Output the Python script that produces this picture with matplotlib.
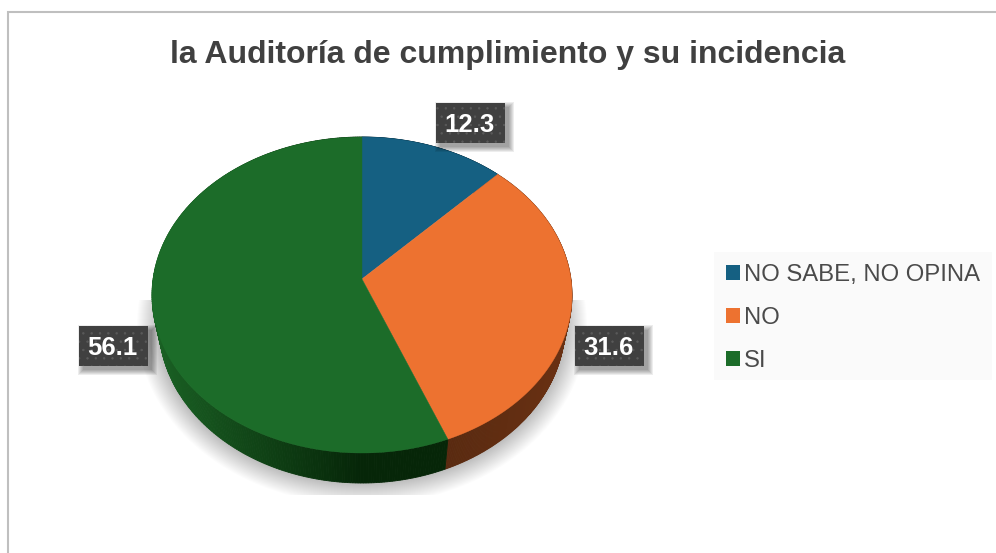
import numpy as np
import matplotlib
matplotlib.use('Agg')
import matplotlib.pyplot as plt
from matplotlib.patches import Ellipse, Rectangle, Patch

plt.rcParams['font.family'] = ['Liberation Sans', 'DejaVu Sans']

# data
title = 'la Auditoría de cumplimiento y su incidencia'
categories = ['NO SABE, NO OPINA', 'NO', 'SI']
values = [12.3, 31.6, 56.1]

# colours
colors = ['#156082', '#ED7230', '#1C6C29']
wall_light = ['#0c3a4e', '#6a3113', '#1a6124']
wall_dark = ['#0a2f40', '#592a10', '#062608']
text_color = '#404040'

# pie geometry, in pixels of the picture
cx, cy = 362, 295       # centre of the top ellipse
rx, ry = 210, 158
apex_y = 279            # the slices meet here, above the centre (perspective)
rx_low, cy_low = 203, 325   # lower edge of the side wall
label_boxes = [(470.5, 123), (609, 346), (113.5, 346)]

fig = plt.figure(figsize=(9.96, 5.53), dpi=100)
ax = fig.add_axes([0, 0, 1, 1])
ax.set_xlim(0, 996)
ax.set_ylim(553, 0)
ax.axis('off')

# frame of the chart, only left and top are visible
ax.plot([8, 8, 996], [553, 12, 12], color='#bfbfbf', lw=1.5, solid_joinstyle='miter')


def rim_param(theta):
    # where a ray from the apex hits the top ellipse, as ellipse parameter
    dx, dy = rx * np.sin(theta), -ry * np.cos(theta)
    off = (apex_y - cy) / ry
    a = (dx / rx) ** 2 + (dy / ry) ** 2
    b = 2 * off * dy / ry
    c = off ** 2 - 1
    s = (-b + np.sqrt(b ** 2 - 4 * a * c)) / (2 * a)
    return np.arctan2((cx + s * dx - cx) / rx, -(apex_y + s * dy - cy) / ry)


# soft shadow under the pie
clip = Rectangle((130, 300), 470, 195, transform=ax.transData)
for k in range(22, 0, -1):
    sh = Ellipse((cx, cy_low), 2 * (rx_low + k), 2 * (ry + k), fc='#000000', ec='none', alpha=0.013, zorder=1)
    ax.add_patch(sh)
    sh.set_clip_path(clip)

edges = np.cumsum([0] + values) / sum(values) * 2 * np.pi

# side wall, strips so that it can darken along the rim
for i in range(len(values)):
    th = np.linspace(edges[i], edges[i + 1], 300)
    t = np.unwrap(rim_param(th))
    for j in range(len(t) - 1):
        tm = t[j:j + 2]
        xs = np.r_[cx + rx * np.sin(tm), (cx + rx_low * np.sin(tm))[::-1]]
        ys = np.r_[cy - ry * np.cos(tm), (cy_low - ry * np.cos(tm))[::-1]]
        f = np.clip((cx + rx * np.sin(tm[0]) - 152) / 210, 0, 1) if i == 2 else np.clip((572 - (cx + rx * np.sin(tm[0]))) / 125, 0, 1)
        c = (1 - f) * np.array(matplotlib.colors.to_rgb(wall_light[i])) + f * np.array(matplotlib.colors.to_rgb(wall_dark[i]))
        ax.fill(xs, ys, color=c, lw=0.6, zorder=2)

# top of the slices
for i in range(len(values)):
    th = np.linspace(edges[i], edges[i + 1], 200)
    t = rim_param(th)
    xs = np.r_[cx, cx + rx * np.sin(t)]
    ys = np.r_[apex_y, cy - ry * np.cos(t)]
    ax.fill(xs, ys, color=colors[i], lw=0.3, zorder=3)

# value labels
box_w, box_h = 69, 40
for (bx, by), v in zip(label_boxes, values):
    for k in range(6, 0, -1):
        ax.add_patch(Rectangle((bx - box_w / 2 + 5 - k, by - box_h / 2 + 5 - k), box_w + 2 * k - 2, box_h + 2 * k - 2,
                               fc='#000000', ec='none', alpha=0.07, zorder=4))
    plt.rcParams['hatch.linewidth'] = 0.5
    ax.add_patch(Rectangle((bx - box_w / 2, by - box_h / 2), box_w, box_h, fc='#404040', ec='#5a5a5a', lw=0,
                           hatch='..', zorder=5))
    ax.text(bx - 1, by + 2, f'{v}', color='white', fontsize=18.5, fontweight='bold', ha='center', va='center', zorder=6)

ax.text(508, 55, title, color=text_color, fontsize=23, fontweight='bold', ha='center', va='center')

# legend background is wider than the legend itself
ax.add_patch(Rectangle((714, 252), 278, 128, fc='#fafafa', ec='none', zorder=7))
handles = [Patch(fc=c, ec='none', label=n) for c, n in zip(colors, categories)]
leg = ax.legend(handles=handles, loc='upper left', bbox_to_anchor=(716.5, 254), bbox_transform=ax.transData,
                borderaxespad=0, fontsize=17.2, frameon=False, labelcolor='#4a4a4a',
                handlelength=0.59, handleheight=0.59, handletextpad=0.17,
                labelspacing=0.88, borderpad=0.4)
leg.set_zorder(8)

fig.savefig('out.png', dpi=100)
